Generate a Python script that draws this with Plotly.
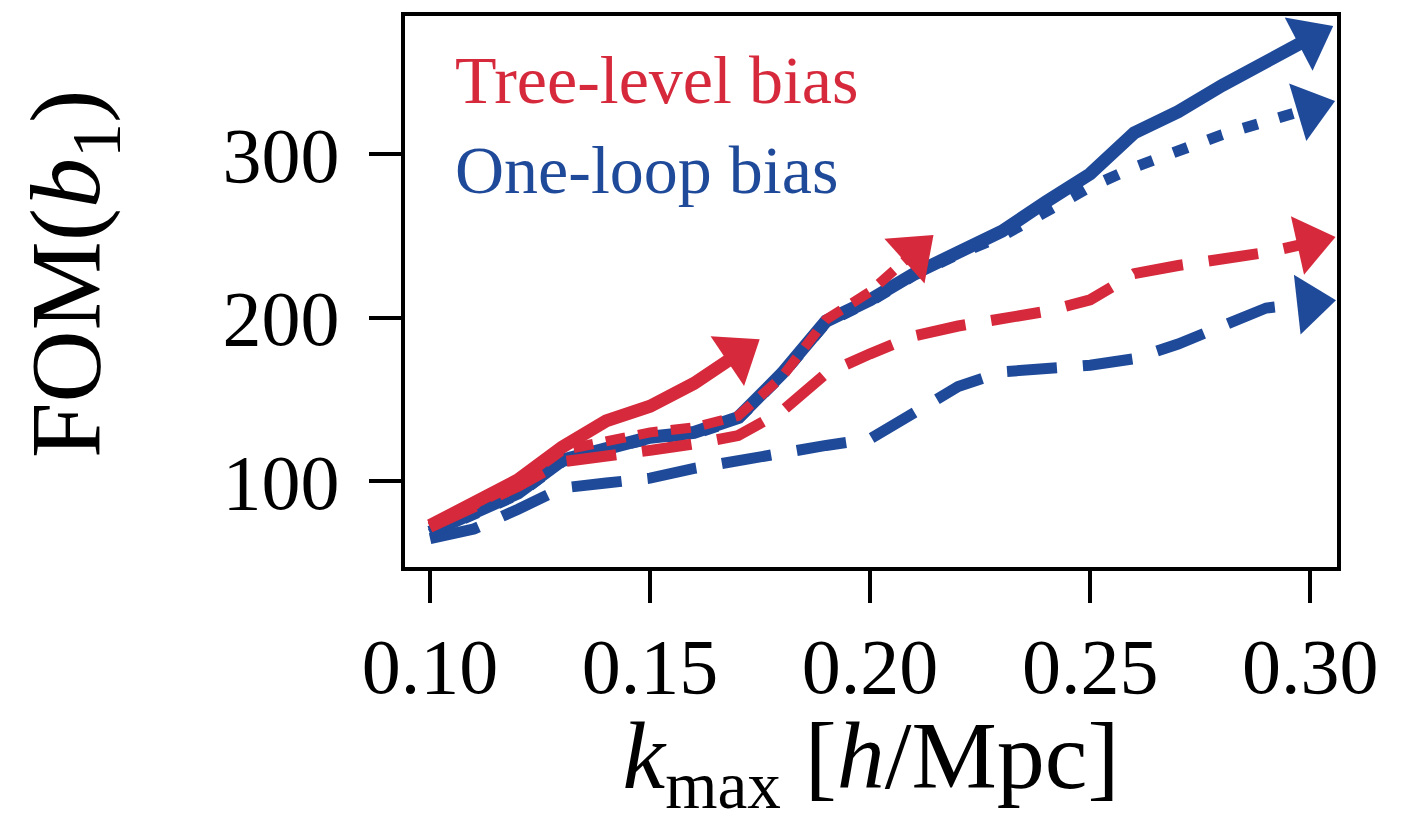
import plotly.graph_objects as go

# k_max grid [h/Mpc]
k_max = [0.10, 0.11, 0.12, 0.13, 0.14, 0.15, 0.16, 0.17, 0.18, 0.19, 0.20,
         0.21, 0.22, 0.23, 0.24, 0.25, 0.26, 0.27, 0.28, 0.29, 0.30]

# Tree-level bias
tree_solid = [73, 87, 101, 121, 137, 146, 160, 178]
tree_dotted = [72, 85, 99, 119, 125, 130, 133, 140, 164, 199, 216, 240]
tree_dashed = [72, 84, 97, 112, 115, 119, 123, 128, 143, 166, 178, 189,
               195, 200, 204, 211, 227, 232, 236, 240, 246]

# One-loop bias
loop_solid = [69, 81, 93, 113, 121, 127, 130, 139, 166, 198, 211, 227,
              240, 253, 271, 288, 313, 326, 342, 357, 371]
loop_dotted = [68, 80, 92, 112, 120, 126, 129, 138, 165, 197, 210, 226,
               239, 250, 265, 280, 292, 302, 312, 320, 328]
loop_dashed = [65, 71, 83, 96, 99, 102, 108, 113, 117, 122, 126, 142,
               158, 167, 169, 171, 175, 184, 195, 206, 209]

RED = "#d62a3c"
BLUE = "#1f4a9a"
FONT = "Liberation Serif"

x_ticks = [0.10, 0.15, 0.20, 0.25, 0.30]
y_ticks = [100, 200, 300]

fig = go.Figure()


def add_arrow_line(x, y, color, width, dash):
    """Line through the points with an arrowhead on the last one."""
    n = len(y)
    sizes = [0] * (n - 1) + [52]
    fig.add_trace(go.Scatter(
        x=x[:n], y=y,
        mode="lines+markers",
        line=dict(color=color, width=width, dash=dash),
        marker=dict(symbol="triangle-up", size=sizes, color=color,
                    opacity=1, angleref="previous", line=dict(width=0)),
        opacity=1,
        showlegend=False,
        hoverinfo="skip",
    ))


add_arrow_line(k_max, loop_dashed, BLUE, 11, "50px,26px")
add_arrow_line(k_max, loop_dotted, BLUE, 11, "15px,22px")
add_arrow_line(k_max, loop_solid, BLUE, 13, "solid")
add_arrow_line(k_max, tree_dashed, RED, 11, "50px,26px")
add_arrow_line(k_max, tree_dotted, RED, 10, "20px,13px")
add_arrow_line(k_max, tree_solid, RED, 13, "solid")

fig.add_annotation(text="Tree-level bias", xref="paper", yref="paper",
                   x=0.052, y=0.883, xanchor="left", yanchor="middle",
                   showarrow=False, font=dict(family=FONT, size=68, color=RED))
fig.add_annotation(text="One-loop bias", xref="paper", yref="paper",
                   x=0.052, y=0.720, xanchor="left", yanchor="middle",
                   showarrow=False, font=dict(family=FONT, size=68, color=BLUE))

# y-axis title
fig.add_annotation(text="FOM(<i>b</i><sub>1</sub>)", xref="paper", yref="paper",
                   x=-0.356, y=0.532, xanchor="center", yanchor="middle",
                   textangle=-90, showarrow=False,
                   font=dict(family=FONT, size=100, color="black"))

axis_common = dict(
    showline=True, linecolor="black", linewidth=4, mirror=True,
    ticks="outside", ticklen=32, tickwidth=4, tickcolor="black",
    showgrid=False, zeroline=False,
    tickfont=dict(family=FONT, size=78, color="black"),
)

fig.update_xaxes(
    range=[0.0943, 0.3061],
    tickvals=x_ticks,
    ticktext=[f"{v:.2f}" for v in x_ticks],
    ticklabelstandoff=-4,
    title=dict(text="<i>k</i><sub>max</sub> [<i>h</i>/Mpc]",
               font=dict(family=FONT, size=96, color="black"), standoff=14),
    **axis_common,
)
fig.update_yaxes(
    range=[47.7, 384.5],
    tickvals=y_ticks,
    ticktext=[str(v) for v in y_ticks],
    ticklabelstandoff=14,
    **axis_common,
)

fig.update_layout(
    width=1406, height=823,
    margin=dict(l=405, r=69, t=13, b=256),
    paper_bgcolor="white", plot_bgcolor="white",
)

fig.write_html("out.html")
